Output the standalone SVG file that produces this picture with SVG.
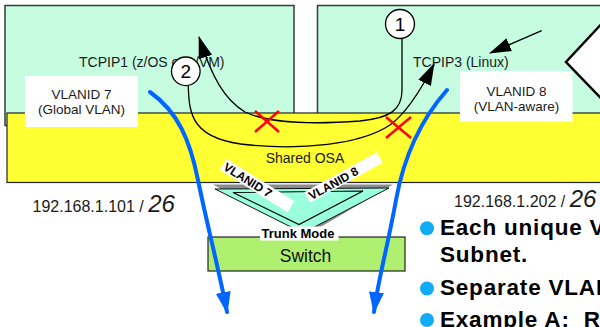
<svg xmlns="http://www.w3.org/2000/svg" width="600" height="327" viewBox="0 0 600 327">
<defs>
<style>
text{font-family:"Liberation Sans",Arial,sans-serif;}
.host{fill:#C6FDE0;stroke:#3a3a3a;stroke-width:1.5}
.lbl{font-size:14px;fill:#1a1a1a}
.vl{font-size:13.5px;fill:#1a1a1a;text-anchor:middle}
.conn{fill:none;stroke:#000;stroke-width:1.3}
.blue{fill:none;stroke:#0066FF;stroke-width:4;stroke-linecap:round}
.x{stroke:#FF0000;stroke-width:2.5;fill:none}
.num{fill:#fff;stroke:#000;stroke-width:1.3}
.numt{font-size:19px;text-anchor:middle;fill:#000}
.ip{font-size:16px;fill:#1a1a1a}
.ipb{font-size:24px;font-style:italic}
.bul{font-size:22.5px;font-weight:bold;fill:#000;letter-spacing:0.8px;white-space:pre}
.dot{fill:#12ACF4}
.tag{font-size:12px;font-weight:bold;fill:#000}
</style>
<marker id="ah" viewBox="0 0 22 14" refX="21" refY="7" markerWidth="22" markerHeight="14" markerUnits="userSpaceOnUse" orient="auto"><path d="M0,0 L22,7 L0,14 z" fill="#000"/></marker>
<marker id="bh" viewBox="0 0 22 15" refX="20" refY="7.5" markerWidth="22" markerHeight="15" markerUnits="userSpaceOnUse" orient="auto"><path d="M0,0 L22,7.5 L0,15 z" fill="#0066FF"/></marker>
</defs>

<g id="tcpip1">
<rect class="host" x="5" y="5.5" width="289" height="120"/>
</g>
<g id="tcpip3">
<rect class="host" x="317.5" y="5.5" width="300" height="120"/>
<polygon points="620,4 566,62 620,118" fill="#fff" stroke="#000" stroke-width="2.5"/>
</g>
<g id="shared-osa">
<rect x="7" y="113" width="610" height="69.5" fill="#FFFF33" stroke="#222" stroke-width="1.2"/>
<text x="305" y="163.3" font-size="14" fill="#1a1a1a" text-anchor="middle">Shared OSA</text>
</g>
<g id="tcpip1-label">
<text class="lbl" x="79" y="66.7">TCPIP1 (z/OS or z/VM)</text>
</g>
<g id="tcpip3-label">
<text class="lbl" x="413" y="66.7">TCPIP3 (Linux)</text>
</g>
<g id="vlan7-box">
<rect x="25" y="76" width="113" height="51" fill="#fff"/>
<text class="vl" x="81.5" y="98.5">VLANID 7</text>
<text class="vl" x="81.5" y="113.5">(Global VLAN)</text>
</g>
<g id="vlan8-box">
<rect x="460" y="71" width="112.5" height="50.5" fill="#fff"/>
<text class="vl" x="516.5" y="95.5">VLANID 8</text>
<text class="vl" x="516.5" y="110.5">(VLAN-aware)</text>
</g>

<g id="ip-left">
<text class="ip" x="32.5" y="211.5">192.168.1.101 / <tspan class="ipb">26</tspan></text>
</g>
<g id="ip-right">
<text class="ip" x="454" y="207.3">192.168.1.202 / <tspan class="ipb">26</tspan></text>
</g>

<g id="trunk">
<polygon points="213,184.5 393,184.5 312,232 303,233" fill="#8c8c8c"/>
<polygon points="215,189 389,188 303,233" fill="#99FFDD" stroke="#111" stroke-width="1"/>
<polygon points="233,192.5 363,191 299,224.5" fill="#99FFDD" stroke="#000" stroke-width="1.2"/>
</g>
<g id="vlan7-tag" transform="translate(257,185.5) rotate(32)">
<rect x="-40" y="-6.5" width="80" height="13" fill="#fff"/>
<text class="tag" x="-38" y="4.5">VLANID 7</text>
</g>
<g id="vlan8-tag" transform="translate(343.5,177.5) rotate(-29)">
<rect x="-41.5" y="-6" width="83" height="12" fill="#fff"/>
<text class="tag" x="-39" y="4.5">VLANID 8</text>
</g>
<g id="switch">
<rect x="208" y="237" width="197" height="34" fill="#B0F070" stroke="#222" stroke-width="1.2"/>
<text x="305.5" y="261.5" font-size="17.5" fill="#111" text-anchor="middle">Switch</text>
</g>
<g id="trunk-mode">
<rect x="260" y="226.5" width="78.5" height="14" fill="#fff"/>
<text x="298" y="237.5" font-size="13" font-weight="bold" fill="#000" text-anchor="middle">Trunk Mode</text>
</g>

<g id="connectors">
<path class="conn" d="M402,39 L402,90 C402,110 390,118 360,121 C320,124 270,124 245,112 C225,100 212,78 199,37" marker-end="url(#ah)"/>
<path class="conn" d="M188.3,86 C189,115 192,140 250,145 C300,150 360,145 390,125 C405,114 420,92 434,64" marker-end="url(#ah)"/>
<path class="conn" d="M541.7,30.7 L490,53" marker-end="url(#ah)"/>
<path class="blue" d="M150,92 C178,112 190,140 198,180 C206,220 219,270 227,312" marker-end="url(#bh)"/>
<path class="blue" d="M447,90 C425,115 405,150 396,200 C388,245 378,280 374,312" marker-end="url(#bh)"/>
</g>
<g id="block-1">
<path class="x" d="M255,111 L279,132 M279,111 L255,132"/>
</g>
<g id="block-2">
<path class="x" d="M386,117 L411,138 M411,117 L386,138"/>
</g>
<g id="step-1">
<circle class="num" cx="400" cy="24" r="14.5"/>
<text class="numt" x="400" y="31">1</text>
</g>
<g id="step-2">
<circle class="num" cx="185.8" cy="71.3" r="14.3"/>
<text class="numt" x="185.8" y="78.3">2</text>
</g>

<g id="bullets">
<circle class="dot" cx="427" cy="228.3" r="7"/>
<text class="bul" x="440" y="235">Each unique V</text>
<text class="bul" x="440" y="262.3">Subnet.</text>
<circle class="dot" cx="427" cy="288.5" r="7"/>
<text class="bul" x="440" y="295">Separate VLAN</text>
<circle class="dot" cx="427" cy="320" r="7"/>
<text class="bul" x="440" y="326.7">Example A:  R</text>
</g>
</svg>
